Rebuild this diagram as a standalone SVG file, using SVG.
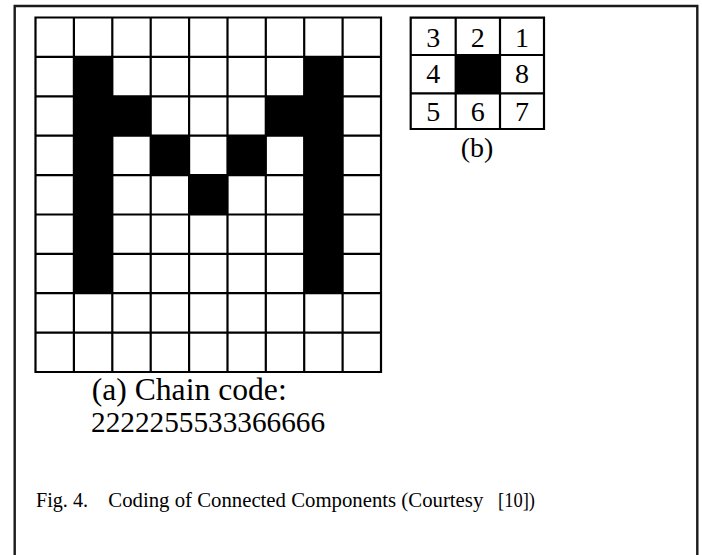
<svg xmlns="http://www.w3.org/2000/svg" width="702" height="555" viewBox="0 0 702 555">
<style>
  .t{font-family:"Liberation Serif","Times New Roman",serif;fill:#000}
  .grid{fill:none;stroke:#000;stroke-width:2.2}
  .blk{fill:#000}
  .frame{fill:none;stroke:#1a1a1a;stroke-width:2.4}
</style>
<rect x="0" y="0" width="702" height="555" fill="#fff"/>
<g id="frame">
  <path class="frame" d="M14.7 555 V6 H697.3 V555"/>
</g>
<g id="grid-a">
  <g class="blk">
    <!-- column 1, rows 1-6 -->
    <rect x="73.9" y="56.9" width="38.4" height="236.3"/>
    <!-- column 7, rows 1-6 -->
    <rect x="304.2" y="56.9" width="38.4" height="236.3"/>
    <rect x="112.3" y="96.3" width="38.4" height="39.4"/>
    <rect x="265.8" y="96.3" width="38.4" height="39.4"/>
    <rect x="150.7" y="135.7" width="38.4" height="39.4"/>
    <rect x="227.5" y="135.7" width="38.4" height="39.4"/>
    <rect x="189.1" y="175.1" width="38.4" height="39.4"/>
  </g>
  <path class="grid" d="M35.5 17.5 H381 V372 H35.5 Z
    M73.9 17.5 V372 M112.3 17.5 V372 M150.7 17.5 V372 M189.1 17.5 V372 M227.5 17.5 V372 M265.8 17.5 V372 M304.2 17.5 V372 M342.6 17.5 V372
    M35.5 56.9 H381 M35.5 96.3 H381 M35.5 135.7 H381 M35.5 175.1 H381 M35.5 214.5 H381 M35.5 253.8 H381 M35.5 293.2 H381 M35.5 332.6 H381"/>
</g>
<g id="label-a">
  <text class="t" x="91.7" y="400" font-size="30.5" textLength="195" lengthAdjust="spacingAndGlyphs">(a) Chain code:</text>
  <text class="t" x="91" y="432" font-size="29" textLength="234" lengthAdjust="spacingAndGlyphs">2222255533366666</text>
</g>
<g id="grid-b">
  <rect class="blk" x="455.7" y="55" width="44.3" height="38.3"/>
  <path class="grid" d="M410.7 17.7 H544 V129 H410.7 Z M455.7 17.7 V129 M500 17.7 V129 M410.7 55 H544 M410.7 93.3 H544"/>
  <g class="t" font-size="28" text-anchor="middle">
    <text x="433.2" y="46.5">3</text>
    <text x="477.8" y="46.5">2</text>
    <text x="522" y="46.5">1</text>
    <text x="433.2" y="83.3">4</text>
    <text x="522" y="83.3">8</text>
    <text x="433.2" y="120.7">5</text>
    <text x="477.8" y="120.7">6</text>
    <text x="522" y="120.7">7</text>
  </g>
  <text class="t" x="477" y="156.5" font-size="28" text-anchor="middle">(b)</text>
</g>
<g id="caption">
  <text class="t" x="36" y="506.7" font-size="20" textLength="52" lengthAdjust="spacingAndGlyphs">Fig. 4.</text>
  <text class="t" x="108.3" y="506.7" font-size="20" textLength="375" lengthAdjust="spacingAndGlyphs">Coding of Connected Components (Courtesy</text>
  <text class="t" x="498" y="506.7" font-size="20" textLength="37" lengthAdjust="spacingAndGlyphs">[10])</text>
</g>
</svg>
